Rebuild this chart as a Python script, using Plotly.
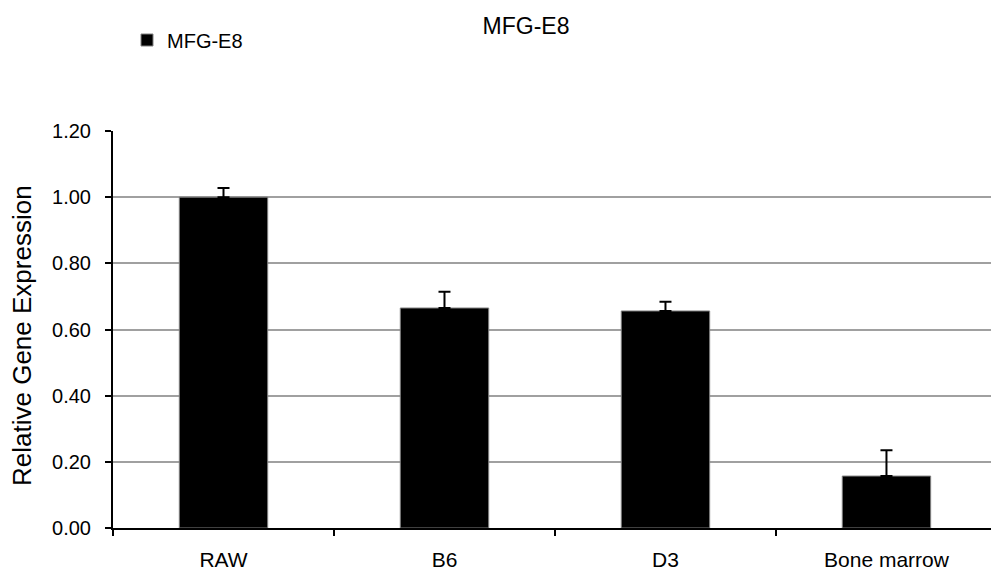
import plotly.graph_objects as go

categories = ["RAW", "B6", "D3", "Bone marrow"]
values = [1.00, 0.665, 0.656, 0.157]
errors = [0.028, 0.049, 0.028, 0.078]
series_name = "MFG-E8"
title_text = "MFG-E8"
y_title = "Relative Gene Expression"
y_ticks = [0.0, 0.2, 0.4, 0.6, 0.8, 1.0, 1.2]
y_ticklabels = ["0.00", "0.20", "0.40", "0.60", "0.80", "1.00", "1.20"]

FONT = "Liberation Sans, Arial, sans-serif"

W, H = 991, 576
L, R, T, B = 113, 0, 131, 48
plot_w = W - L - R
plot_h = H - T - B

fig = go.Figure()
fig.add_trace(go.Bar(
    x=categories,
    y=values,
    name=series_name,
    width=0.40,
    marker=dict(color="black", line=dict(color="#808080", width=1)),
    error_y=dict(type="data", array=errors, arrayminus=[0] * len(errors),
                 symmetric=False, color="black", thickness=2, width=6),
    showlegend=True,
))

fig.update_layout(
    width=W, height=H,
    margin=dict(l=L, r=R, t=T, b=B, autoexpand=False),
    paper_bgcolor="white", plot_bgcolor="white",
    font=dict(family=FONT, size=19, color="black"),
    title=dict(text=title_text, x=526 / W, xref="container", xanchor="center",
               y=1 - 26 / H, yref="container", yanchor="middle",
               font=dict(family=FONT, size=23, color="black")),
    legend=dict(x=127 / W, xref="container", y=1 - 40 / H, yref="container",
                yanchor="middle", xanchor="left", itemwidth=30,
                font=dict(family=FONT, size=20, color="black"),
                bgcolor="rgba(0,0,0,0)"),
    bargap=0.6,
    annotations=[dict(
        text=y_title, textangle=-90,
        x=(22 - L) / plot_w, xref="paper",
        y=(H - B - 336) / plot_h, yref="paper",
        xanchor="center", yanchor="middle", showarrow=False,
        font=dict(family=FONT, size=26, color="black"),
    )],
)

fig.update_xaxes(
    type="category",
    range=[-0.5, 3.473],
    showline=True, linecolor="black", linewidth=2,
    ticks="outside", tickson="boundaries", ticklen=6, tickwidth=2, tickcolor="black",
    ticklabelstandoff=12,
    showgrid=False, zeroline=False,
    automargin=False,
    tickfont=dict(family=FONT, size=21, color="black"),
)
fig.update_yaxes(
    range=[0, 1.2],
    tickvals=y_ticks, ticktext=y_ticklabels,
    showline=True, linecolor="black", linewidth=2,
    ticks="outside", ticklen=6, tickwidth=2, tickcolor="black",
    ticklabelstandoff=10,
    showgrid=True, gridcolor="#a0a0a0", gridwidth=2,
    zeroline=False,
    automargin=False,
    tickfont=dict(family=FONT, size=20, color="black"),
)

fig.write_html("out.html")
